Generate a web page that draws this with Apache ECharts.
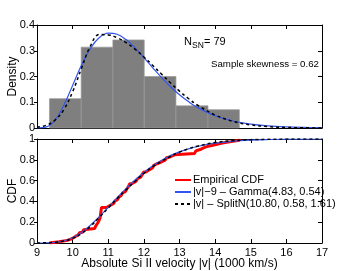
<!DOCTYPE html>
<html><head><meta charset="utf-8">
<script src="https://cdn.jsdelivr.net/npm/echarts@6/dist/echarts.min.js"></script>
<style>html,body{margin:0;padding:0;background:#fff}#c{width:361px;height:271px}</style>
</head><body><div id="c"></div>
<script>
// ---- data ----
const binEdges = [9.35, 10.24, 11.13, 12.01, 12.90, 13.80, 14.68];
const binDensity = [0.114, 0.314, 0.342, 0.200, 0.086, 0.071];
const fitX = [9,9.25,9.5,9.75,10,10.25,10.5,10.75,11,11.25,11.5,11.75,12,12.25,12.5,12.75,13,13.25,13.5,14,14.5,15,15.5,16,16.5,17];
const gammaPdf = [0,0.0033,0.0293,0.0872,0.1651,0.2443,0.3092,0.3512,0.3686,0.3642,0.3433,0.3113,0.2734,0.2338,0.1955,0.1603,0.1291,0.1025,0.0803,0.0476,0.0272,0.0150,0.0081,0.0043,0.0022,0.0011];
const splitPdf = [0.0030,0.0103,0.0296,0.0708,0.1407,0.2324,0.3187,0.3629,0.3615,0.3504,0.3314,0.3061,0.2760,0.2428,0.2086,0.1749,0.1432,0.1145,0.0893,0.0505,0.0260,0.0121,0.0051,0.0020,0.0007,0.0002];
const gammaCdf = [0,0.0004,0.0045,0.0190,0.0506,0.1018,0.1710,0.2535,0.3435,0.4351,0.5235,0.6054,0.6785,0.7419,0.7955,0.8400,0.8762,0.9052,0.9280,0.9600,0.9787,0.9893,0.9951,0.9982,0.9993,0.9998];
const splitCdf = [0.0005,0.0020,0.0066,0.0186,0.0444,0.0909,0.1603,0.2467,0.3374,0.4268,0.5106,0.5918,0.6695,0.7343,0.7860,0.8340,0.8736,0.9059,0.9311,0.9655,0.9840,0.9934,0.9975,0.9991,0.9997,1.0];
const velocities = [9.35,9.62,9.85,9.95,10.02,10.08,10.15,10.20,
 10.27,10.31,10.36,10.62,10.65,10.68,10.70,10.72,10.74,10.76,10.77,10.78,10.78,10.79,10.79,10.80,10.80,10.81,10.81,10.95,11.02,11.08,
 11.15,11.19,11.22,11.26,11.30,11.33,11.36,11.40,11.44,11.48,11.52,11.55,11.57,11.58,11.60,11.66,11.72,11.78,11.83,11.87,11.91,11.95,11.98,12.00,
 12.06,12.12,12.18,12.24,12.28,12.32,12.35,12.45,12.52,12.60,12.64,12.70,12.78,12.86,
 13.42,13.46,13.50,13.58,13.66,13.74,
 13.90,14.05,14.20,14.45,14.68];
const seriesNames = ['Empirical CDF','|v|\u22129 \u2013 Gamma(4.83, 0.54)','|v| \u2013 SplitN(10.80, 0.58, 1.61)'];

// ---- build ----
const N = velocities.length;
const ecdf = [[velocities[0], 0]].concat(velocities.map((v,i)=>[v,(i+1)/N]));
const hist = binDensity.map((d,i)=>[binEdges[i], binEdges[i+1], d]);
const pair = (xs, ys) => xs.map((x,i)=>[x, ys[i]]);

const FONT = 'Liberation Sans';
const lab = {fontFamily: FONT, fontSize: 11, color: '#000'};
const BLUE = '#3355ee';
function xa(grid, pos, labels, ticks) {
  return {type:'value', gridIndex:grid, position:pos, min:9, max:17, interval:1,
    axisLine:{show:true, onZero:false, lineStyle:{color:'#000', width:1}},
    axisTick:{show:ticks, inside:true, length:4, lineStyle:{color:'#000'}},
    axisLabel:{show:labels, ...lab, margin:4},
    splitLine:{show:false}};
}
function ya(grid, pos, max, interval, labels, inside) {
  return {type:'value', gridIndex:grid, position:pos, min:0, max:max, interval:interval,
    axisLine:{show:true, onZero:false, lineStyle:{color:'#000', width:1}},
    axisTick:{show:true, inside:inside, length:inside?4:3, lineStyle:{color:'#000'}},
    axisLabel:{show:labels, ...lab, margin:2},
    splitLine:{show:false}};
}
const yName = (t) => ({name:t, nameLocation:'middle', nameGap:18, nameMoveOverlap:false,
  nameTextStyle:{fontFamily:FONT, fontSize:12, color:'#000'}});

const chart = echarts.init(document.getElementById('c'), null, {renderer:'canvas'});
chart.setOption({
  animation:false,
  backgroundColor:'#fff',
  grid:[
    {left:37, top:25, width:285, height:103, outerBoundsMode:'none', containLabel:false},
    {left:37, top:139, width:285, height:104, outerBoundsMode:'none', containLabel:false}
  ],
  xAxis:[
    xa(0,'bottom',false,false),
    xa(0,'top',false,true),
    {...xa(1,'bottom',true,true),
      name:'Absolute Si II velocity |v| (1000 km/s)', nameLocation:'middle', nameGap:14.5, nameMoveOverlap:false,
      nameTextStyle:{fontFamily:FONT, fontSize:12, color:'#000', verticalAlign:'top'}},
    xa(1,'top',false,true)
  ],
  yAxis:[
    {...ya(0,'left',0.4,0.1,true,false), ...yName('Density')},
    ya(0,'right',0.4,0.1,false,true),
    {...ya(1,'left',1,0.2,true,false), ...yName('CDF')},
    ya(1,'right',1,0.2,false,true)
  ],
  legend:{
    orient:'vertical', left:174, top:174, padding:0, itemGap:0,
    itemWidth:16, itemHeight:12,
    itemStyle:{opacity:0},
    textStyle:{fontFamily:FONT, fontSize:11, color:'#000', lineHeight:12, padding:[0,0,0,-3]},
    data:seriesNames
  },
  series:[
    {type:'custom', xAxisIndex:0, yAxisIndex:0, data:hist, encode:{x:[0,1], y:2},
      renderItem:function(params, api){
        const p0 = api.coord([api.value(0), api.value(2)]);
        const p1 = api.coord([api.value(1), 0]);
        return {type:'rect', shape:{x:p0[0], y:p0[1], width:p1[0]-p0[0], height:p1[1]-p0[1]},
          style:{fill:'#7f7f7f', stroke:'#999999', lineWidth:0.7}};
      }, z:1},
    {type:'line', xAxisIndex:0, yAxisIndex:0, data:pair(fitX,gammaPdf), smooth:0.4, symbol:'none',
      color:BLUE, lineStyle:{color:BLUE, width:1.2}, z:3},
    {type:'line', xAxisIndex:0, yAxisIndex:0, data:pair(fitX,splitPdf), smooth:0.4, symbol:'none',
      color:'#000', lineStyle:{color:'#000', width:1.5, type:[3,3]}, z:4},
    {name:seriesNames[0], type:'line', xAxisIndex:2, yAxisIndex:2, data:ecdf, step:'end', symbol:'none',
      color:'#ff0000', lineStyle:{color:'#ff0000', width:3}, z:2},
    {name:seriesNames[1], type:'line', xAxisIndex:2, yAxisIndex:2, data:pair(fitX,gammaCdf), smooth:0.4, symbol:'none',
      color:BLUE, lineStyle:{color:BLUE, width:1.2}, z:3},
    {name:seriesNames[2], type:'line', xAxisIndex:2, yAxisIndex:2, data:pair(fitX,splitCdf), smooth:0.4, symbol:'none',
      color:'#000', lineStyle:{color:'#000', width:1.5, type:[3,3]}, z:4}
  ],
  graphic:[
    {type:'text', left:184, top:36, style:{text:'N', fontFamily:FONT, fontSize:11, fill:'#000'}},
    {type:'text', left:192, top:41, style:{text:'SN', fontFamily:FONT, fontSize:8.5, fill:'#000'}},
    {type:'text', left:204, top:36, style:{text:'= 79', fontFamily:FONT, fontSize:11, fill:'#000'}},
    {type:'text', left:211, top:59, style:{text:'Sample skewness = 0.62', fontFamily:FONT, fontSize:9.7, fill:'#000'}}
  ]
});
</script></body></html>
